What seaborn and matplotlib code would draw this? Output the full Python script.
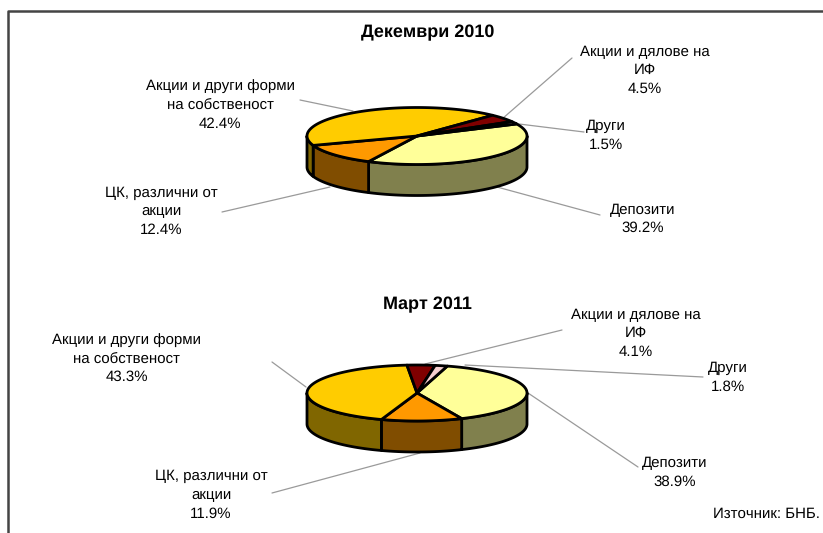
import numpy as np
import matplotlib.pyplot as plt
import seaborn as sns
from matplotlib.patches import Polygon

sns.set_style("white")
plt.rcParams['font.family'] = ['Liberation Sans', 'DejaVu Sans']
plt.rcParams['text.hinting'] = 'no_hinting'
plt.rcParams['text.hinting_factor'] = 1

# 1 Data

labels = ["Депозити", "ЦК, различни от\nакции", "Акции и други форми\nна собственост",
          "Акции и дялове на\nИФ", "Други"]
values_dec = [39.2, 12.4, 42.4, 4.5, 1.5]
values_mar = [38.9, 11.9, 43.3, 4.1, 1.8]
top_colors = ["#FFFF99", "#FF9900", "#FFCC00", "#800000", "#F6D0D0"]
side_colors = ["#80804D", "#804D00", "#806600", "#400000", "#808080"]


def ellipse_pts(cx, cy, rx, ry, t1, t2, n=80):
    t = np.radians(np.linspace(t1, t2, n))
    return np.column_stack([cx + rx * np.cos(t), cy - ry * np.sin(t)])


def draw_pie(ax, values, start, cx, cy, rx, ry, depth):
    edges = start - np.cumsum([0] + values) * 3.6
    # sides only for the front half
    for i in range(len(values)):
        t1, t2 = edges[i], edges[i + 1]
        for shift in (0, -360, 360):
            hi = min(t1 + shift, 0)
            lo = max(t2 + shift, -180)
            if hi > lo:
                front = ellipse_pts(cx, cy, rx, ry, hi, lo)
                back = front[::-1] + [0, depth]
                ax.add_patch(Polygon(np.vstack([front, back]), closed=True,
                                     fc=side_colors[i], ec="black", lw=2, joinstyle="round"))
    for i in range(len(values)):
        arc = ellipse_pts(cx, cy, rx, ry, edges[i], edges[i + 1])
        pts = np.vstack([[cx, cy], arc])
        ax.add_patch(Polygon(pts, closed=True, fc=top_colors[i], ec="black", lw=2,
                             joinstyle="round"))


def leader(ax, xs, ys):
    ax.plot(xs, ys, color="#9a9a9a", lw=0.9, zorder=0.5)


fig = plt.figure(figsize=(8.23, 5.33), dpi=100)
ax = fig.add_axes([0, 0, 1, 1])
ax.set_xlim(0, 823)
ax.set_ylim(533, 0)
ax.axis("off")

# frame
ax.plot([8, 8, 823], [533, 11, 11], color="#444444", lw=1.8)

draw_pie(ax, values_dec, 25, 417, 136, 110, 28.5, 31)
draw_pie(ax, values_mar, 74, 417, 393, 110, 28, 31)

# 2 Text

fs = 11.05
ax.text(428, 33, "Декември 2010", ha="center", va="center", fontsize=12.8, fontweight="bold", color="black")
ax.text(427, 305, "Март 2011", ha="center", va="center", fontsize=12.8, fontweight="bold", color="black")


def label(x, y, name, val):
    ax.text(x, y, f"{name}\n{val:.1f}%", ha="center", va="center", fontsize=fs,
            linespacing=1.42, color="black")


label(645, 70.5, labels[3], values_dec[3])
label(606, 135.5, labels[4], values_dec[4])
label(643, 219, labels[0], values_dec[0])
label(161, 211.5, labels[1], values_dec[1])
label(220, 105, labels[2], values_dec[2])

label(636, 333.5, labels[3], values_mar[3])
label(728, 377.5, labels[4], values_mar[4])
label(675, 472.5, labels[0], values_mar[0])
label(211, 495, labels[1], values_mar[1])
label(126.5, 358.5, labels[2], values_mar[2])

leader(ax, [572, 502], [58, 119])
leader(ax, [584, 511], [132, 123])
leader(ax, [600, 497], [215, 187])
leader(ax, [222, 330], [212, 187])
leader(ax, [300, 353], [100, 111])

leader(ax, [562, 425], [330, 364])
leader(ax, [703, 465], [377, 365])
leader(ax, [638, 528], [467, 393])
leader(ax, [272, 420], [493, 453])
leader(ax, [272, 306], [362, 387])

ax.text(820, 514, "Източник: БНБ.", ha="right", va="center", fontsize=fs, color="black")

fig.savefig("out.png", dpi=100)
